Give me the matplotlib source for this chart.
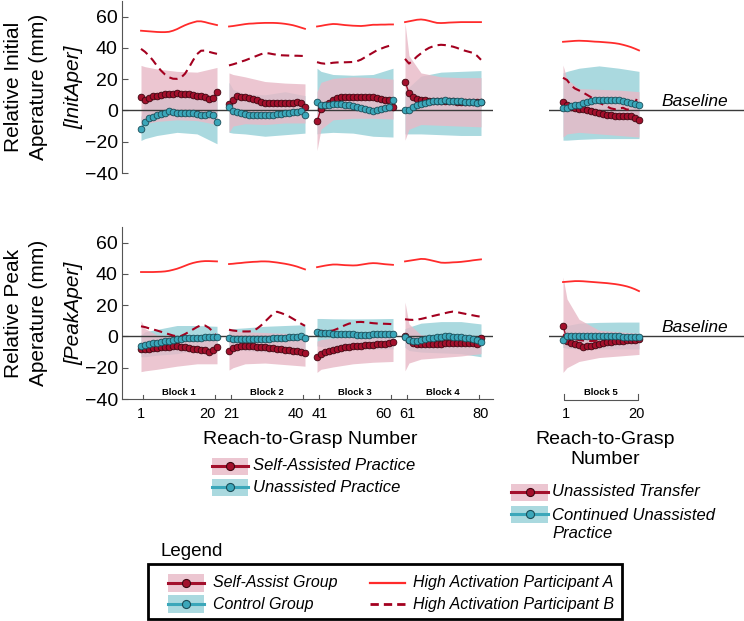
import numpy as np
import matplotlib
matplotlib.use('Agg')
import matplotlib.pyplot as plt
from matplotlib.patches import Rectangle

plt.rcParams['font.family'] = ['Liberation Sans', 'DejaVu Sans']

# ------------------------------------------------------------------ data
trials = list(range(1, 21))
band_trials = [1, 2, 5, 10, 15, 20]
block_names = ['Block 1', 'Block 2', 'Block 3', 'Block 4', 'Block 5']
xtick_labels_left = ['1', '20', '21', '40', '41', '60', '61', '80']
xtick_labels_right = ['1', '20']
yticks = [-40, -20, 0, 20, 40, 60]

# Relative Initial Aperture, means per block (trials 1..20)
init_self = [
    [8.5, 6.5, 8, 9, 9.5, 10, 10.5, 10.7, 10.7, 11, 10.7, 10.7, 10.3, 9.8, 9.5, 9, 8.5, 7.5, 8, 11.5],
    [4, 6.5, 9.5, 8.7, 8.3, 8, 7.5, 6.5, 5.3, 5, 4.8, 4.7, 4.7, 4.7, 4.8, 5, 5, 5.2, 4.8, 2.3],
    [-7, 1, 3.5, 5, 6.5, 7.8, 8.3, 8.5, 8.7, 8.7, 8.7, 8.7, 8.7, 8.5, 8.3, 8, 7.5, 7, 6.4, 2.3],
    [18.5, 11.2, 8.3, 7.4, 6.9, 6.4, 6.2, 6, 6, 6, 5.9, 5.8, 5.8, 5.7, 5.6, 5.5, 5.5, 5.5, 5.5, 5.5],
    [5.3, 3.2, 2.1, 1.7, 1.1, 1.1, 0.4, -0.4, -1.1, -1.5, -2.1, -2.6, -3.2, -3.6, -3.8, -3.8, -3.6, -3.4, -4.7, -5.8],
]
init_ctrl = [
    [-11.7, -7.5, -4.8, -4.3, -3.2, -2.1, -1.5, -0.6, -1.1, -1.7, -1.7, -1.7, -1.7, -1.7, -2.1, -2.8, -2.6, -2.5, -2.8, -7.2],
    [2, -0.5, -1.2, -1.7, -2.2, -2.6, -2.9, -3.1, -3.2, -3.2, -3, -2.6, -2.3, -2, -1.8, -1.5, -1.2, -0.8, -0.6, -2.6],
    [5.3, 3.5, 3.6, 3.8, 4, 4.2, 4, 3.6, 3.2, 2.7, 2.2, 1.7, 1.1, 0.3, -0.5, 0.5, 1.2, 1.6, 2, 6.5],
    [0.4, 0.4, 2.1, 3.4, 4.3, 4.9, 5.4, 5.8, 6.1, 6.3, 6.4, 6.3, 6.2, 6, 5.8, 5.6, 5.4, 5.2, 5, 5.2],
    [1.7, 1.7, 2.6, 3.2, 3.8, 4.7, 5.3, 6, 6.8, 7, 7, 7, 6.8, 6.6, 6.4, 6, 5.3, 4.9, 4.3, 3.2],
]
init_a = [
    [51, 50.8, 50.6, 50.4, 50.2, 50.1, 50.1, 50.3, 51, 52, 53.3, 54.5, 55.5, 56.3, 57, 57, 56.5, 55.8, 55.2, 54.6],
    [53.7, 54, 54.4, 54.8, 55.2, 55.5, 55.6, 55.8, 55.9, 56, 56, 56, 55.9, 55.7, 55.4, 55, 54.5, 53.8, 53, 52.2],
    [53.7, 54.1, 54.6, 55, 55.3, 55.2, 54.9, 54.6, 54.4, 54.2, 54.1, 54, 54.2, 54.5, 54.8, 54.8, 54.9, 54.9, 55, 55],
    [56.5, 57, 57.5, 58, 58.2, 57.9, 57.3, 56.6, 56, 55.9, 56, 56.2, 56.3, 56.4, 56.5, 56.5, 56.5, 56.5, 56.5, 56.5],
    [43.9, 44.1, 44.3, 44.5, 44.6, 44.5, 44.4, 44.2, 44, 43.9, 43.7, 43.5, 43.3, 43, 42.6, 42, 41.3, 40.5, 39.5, 38.4],
]
init_b = [
    [39.4, 37.5, 35, 32, 28.5, 25.5, 23, 21.2, 20.3, 20.2, 21, 23.5, 27.5, 32, 36, 38.2, 38.3, 37.5, 36.8, 36.2],
    [28.8, 29.5, 30.3, 31.2, 32, 33, 34, 35, 36, 36.7, 36.5, 36, 35.6, 35.3, 35.2, 35.1, 35, 35, 34.9, 34.8],
    [30.9, 30.2, 29.9, 30.1, 30.5, 30.7, 30.8, 30.8, 30.9, 31, 31.5, 32.5, 34, 35.5, 37, 38.5, 39.5, 40.5, 41.3, 42],
    [33, 30, 32, 34.5, 36.5, 38.5, 40, 41, 41.7, 42, 41.8, 41.3, 40.8, 40, 39, 38.2, 37.5, 36.8, 35, 32.4],
    [20.9, 19.5, 16, 14, 12.8, 11.5, 10, 8.5, 6.5, 5, 3.8, 2.5, 1.3, 0.8, 1.3, 1.7, 0.5, 1.2, 5, 10.2],
]
# variability bands, read at band_trials
init_self_hi = [[28.8, 28, 26.5, 25, 24.5, 27.5], [24, 23, 21.5, 18.5, 17.5, 17],
                [12, 18, 20.5, 21.5, 21, 20], [56, 35, 24, 21.5, 21, 21], [29, 20, 14, 13.5, 13, 12]]
init_self_lo = [[-9, -8.5, -7, -6, -6.5, -9], [-14, -10, -8.5, -9, -8, -8],
                [-25.6, -12, -6, -5, -5, -5.5], [-19, -12, -9, -9.5, -10, -10.5], [-17, -15, -14, -15, -16, -17]]
init_ctrl_hi = [[-4, 6, 9.5, 10.5, 11, 7], [18, 13.5, 10.5, 10, 12, 9.5],
                [27, 25, 23, 22.5, 23, 27], [12, 15, 22, 24.5, 25, 25.5], [24, 25, 27, 28.5, 27, 25]]
init_ctrl_lo = [[-19.2, -18, -16, -14, -15, -21.3], [-14, -14.5, -15, -16.5, -15.5, -14.5],
                [-15, -14.5, -14, -14.5, -16.5, -17], [-15, -15, -15, -15.5, -16, -16], [-19, -19, -18.5, -18, -18, -18]]

# Relative Peak Aperture
peak_self = [
    [-7.8, -8.2, -7.8, -7.5, -7.2, -7, -6.8, -6.6, -6.4, -6.4, -6.6, -7, -7.5, -7.9, -8.2, -8.4, -8.6, -9.8, -8.7, -6.6],
    [-9, -7.5, -6.5, -6.1, -6, -6.1, -6.3, -6.5, -6.8, -7, -7.3, -7.6, -7.9, -8.2, -8.5, -8.8, -9.2, -9.5, -9.8, -10.3],
    [-13.2, -11.3, -10, -9.2, -8.5, -7.9, -7.4, -7, -6.6, -6.3, -6, -5.8, -5.6, -5.4, -5.2, -5, -4.9, -4.8, -4.3, -3.7],
    [0.5, -2.3, -4, -4.6, -5, -5.1, -5.1, -5, -4.9, -4.7, -4.5, -4.3, -4.2, -4.1, -4.1, -4.2, -4.3, -4.5, -4.8, -1.1],
    [7, -2.6, -4.5, -5.1, -5.7, -6.6, -6.4, -5.8, -5.2, -4.7, -4.3, -3.8, -3.4, -3.1, -2.8, -2.6, -2.4, -2.2, -2.1, -1.6],
]
peak_ctrl = [
    [-6, -5.4, -4.9, -4.4, -4, -3.5, -3.1, -2.6, -2.2, -1.9, -1.6, -1.3, -1.1, -0.9, -0.8, -0.7, -0.6, -0.6, -0.5, -0.5],
    [-1.3, -1.4, -1.5, -1.6, -1.7, -1.8, -1.8, -1.8, -1.7, -1.6, -1.5, -1.3, -1.1, -0.9, -0.7, -0.5, -0.3, -0.1, 0.6, -1.3],
    [2.8, 2.4, 2.2, 2, 1.8, 1.7, 1.6, 1.5, 1.4, 1.3, 1.2, 1.2, 1.2, 1.2, 1.3, 1.3, 1.4, 1.5, 1.6, 1.7],
    [-0.2, -2.3, -3, -2.6, -2, -1.6, -1.2, -0.8, -0.5, -0.2, 0, 0, -0.1, -0.3, -0.6, -0.9, -1.3, -1.8, -2.4, -3.4],
    [-2.1, 0.2, 0.5, 0.5, 0.5, 0.4, 0.4, 0.3, 0.3, 0.2, 0.2, 0.1, 0.1, 0, 0, -0.1, -0.2, -0.2, -0.3, -0.4],
]
peak_a = [
    [41.2, 41.2, 41.2, 41.2, 41.3, 41.4, 41.6, 42, 42.6, 43.3, 44.2, 45.2, 46.2, 47, 47.6, 48, 48.2, 48.2, 48.1, 48],
    [46.3, 46.5, 46.8, 47, 47.3, 47.5, 47.7, 47.8, 48, 48, 47.9, 47.6, 47.3, 46.9, 46.5, 46, 45.4, 44.7, 43.8, 42.9],
    [44.3, 44.8, 45.3, 45.7, 46, 46, 45.8, 45.6, 45.5, 45.4, 45.5, 45.9, 46.3, 46.7, 46.9, 46.8, 46.5, 46.2, 46, 45.8],
    [48, 48.4, 48.8, 49.2, 49.6, 49.5, 49, 48.4, 47.8, 47.2, 47.1, 47.2, 47.4, 47.5, 47.7, 48, 48.3, 48.7, 49, 49.3],
    [34.8, 35, 35.2, 35.4, 35.4, 35.3, 35.1, 34.9, 34.7, 34.5, 34.3, 34.1, 33.8, 33.5, 33.1, 32.6, 32, 31.2, 30.2, 29],
]
peak_b = [
    [6.5, 6, 5.2, 4.5, 3.8, 3, 2.2, 1.4, 0.6, 0.1, 0.3, 1.5, 3, 4.5, 6, 7.2, 7, 5.5, 3, 0],
    [4.3, 3.8, 3.5, 3.2, 3.2, 3.2, 3.5, 5, 7, 9.5, 12, 14.5, 15.8, 15, 14, 12.8, 11.3, 9.8, 8.2, 6.8],
    [4, 3.6, 3.4, 3.5, 3.8, 4.8, 6, 7.2, 8.2, 8.8, 9.2, 9.3, 9.1, 8.8, 8.5, 8.3, 8.2, 8.1, 8, 7.8],
    [11, 10.7, 10.6, 10.8, 11.2, 11.8, 12.5, 13.1, 13.7, 14.3, 14.9, 15.5, 15.9, 15.6, 15, 14.5, 14, 13.5, 13, 12.6],
    [1, 0, -1, -1.8, -2.3, -2.6, -2.8, -2.9, -2.8, -2.6, -2.4, -2.3, -2.3, -2.4, -2.5, -2.5, -2.4, -2.3, -2.2, -2.1],
]
peak_self_hi = [[10, 5, 1, 0, 0, 1], [5, 3.5, 3, 2.5, 2, 1.5],
                [-3, -2, -1, 0, 1, 1.5], [22, 8, 1, 0, 0, 0], [38, 24, 11, 4, 3, 2]]
peak_self_lo = [[-22.5, -22, -21, -19, -17.5, -17.5], [-21.5, -20, -17.5, -17, -18, -19],
                [-23, -21, -19.5, -17.5, -16.5, -16], [-22, -17, -14.5, -13.5, -12.5, -11], [-23, -20, -16, -13.5, -12.5, -11.5]]
peak_ctrl_hi = [[1, 3, 4.5, 7, 7, 6.5], [4, 5, 5.5, 6.5, 7, 7.5],
                [11.5, 11.5, 11.3, 11.2, 11.3, 11.5], [5, 6, 8.5, 9.5, 9.5, 8], [2, 7, 8.5, 9, 9.2, 9.2]]
peak_ctrl_lo = [[-13, -13, -12, -11, -8.5, -7.5], [-7, -8, -9, -10, -8.5, -10],
                [-6, -6.5, -7, -7.5, -8, -8], [-7, -9, -10, -10.5, -11, -13], [-7, -7.5, -8, -8, -8, -8]]

ylabels_main = [['Relative Initial', 'Aperature (mm)'], ['Relative Peak', 'Aperature (mm)']]
ylabels_tag = ['[InitAper]', '[PeakAper]']
xlabel_left = 'Reach-to-Grasp Number'
xlabel_right = 'Reach-to-Grasp\nNumber'
baseline_label = 'Baseline'
legend_mid = ['Self-Assisted Practice', 'Unassisted Practice']
legend_right = ['Unassisted Transfer', 'Continued Unassisted\nPractice']
legend_main = ['Self-Assist Group', 'Control Group', 'High Activation Participant A', 'High Activation Participant B']
legend_title = 'Legend'

# ------------------------------------------------------------------ style
SELF_C, SELF_E = '#a3102c', '#3d0610'
CTRL_C, CTRL_E = '#3ba7ba', '#1b4d58'
PINK, TEAL = '#e8bac7', '#aad9df'
A_C, B_C = '#ff2b2b', '#a3001f'
AX_C = '#555555'
W, H = 744, 621
BLOCK_STEP = 22

fig = plt.figure(figsize=(W / 100, H / 100), dpi=100)


def rect(px0, py0, px1, py1):
    return [px0 / W, 1 - py1 / H, (px1 - px0) / W, (py1 - py0) / H]


def draw_row(axL, axR, s, c, a, b, s_hi, s_lo, c_hi, c_lo):
    for k in range(5):
        ax, off = (axL, k * BLOCK_STEP) if k < 4 else (axR, 0)
        x = [off + t for t in trials]
        xb = [off + t for t in band_trials]
        ax.fill_between(xb, c_lo[k], c_hi[k], color=TEAL, lw=0, zorder=1)
        ax.fill_between(xb, s_lo[k], s_hi[k], color=PINK, alpha=0.82, lw=0, zorder=2)
        ax.plot(x, a[k], color=A_C, lw=1.3, zorder=4)
        ax.plot(x, b[k], color=B_C, lw=1.5, ls=(0, (4, 2.5)), zorder=4)
        ax.plot(x, s[k], color=SELF_C, lw=1, marker='o', ms=4.8, mfc=SELF_C,
                mec=SELF_E, mew=0.6, zorder=5)
        ax.plot(x, c[k], color=CTRL_C, lw=1, marker='o', ms=4.8, mfc=CTRL_C,
                mec=CTRL_E, mew=0.6, zorder=6)


rows = [(1, 173), (227, 399)]
datasets = [
    (init_self, init_ctrl, init_a, init_b, init_self_hi, init_self_lo, init_ctrl_hi, init_ctrl_lo),
    (peak_self, peak_ctrl, peak_a, peak_b, peak_self_hi, peak_self_lo, peak_ctrl_hi, peak_ctrl_lo),
]
for r, (ytop, ybot) in enumerate(rows):
    axL = fig.add_axes(rect(122, ytop, 493, ybot))
    axR = fig.add_axes(rect(549, ytop, 744, ybot))
    draw_row(axL, axR, *datasets[r])
    for ax in (axL, axR):
        ax.set_ylim(-40, 70)
        ax.axhline(0, color='#3a3a3a', lw=1, zorder=3)
        for sp in ax.spines.values():
            sp.set_visible(False)
        ax.patch.set_alpha(0)
    axL.set_xlim(-3.75, 89)
    axR.set_xlim(-2.5, 46.25)
    axL.spines['left'].set_visible(True)
    axL.spines['left'].set_color(AX_C)
    axL.set_yticks(yticks)
    axL.tick_params(axis='y', direction='in', length=4, width=0.8, color=AX_C,
                    labelsize=14, pad=3)
    axR.set_yticks([])
    axR.text(34, 1.2, baseline_label, style='italic', fontsize=12.5,
             ha='center', va='bottom')
    if r == 0:
        axL.set_xticks([])
        axR.set_xticks([])
    else:
        axL.spines['bottom'].set_visible(True)
        axL.spines['bottom'].set_color(AX_C)
        pos = []
        for k in range(4):
            start, end = k * BLOCK_STEP + trials[0], k * BLOCK_STEP + trials[-1]
            pos += [start + (0.6 if k else 0), end - (2.3 if k < 3 else 0)]
        axL.set_xticks(pos, xtick_labels_left)
        axL.tick_params(axis='x', length=0, labelsize=10.5, pad=6)
        axR.set_xticks([trials[0] + 0.7, trials[-1] - 0.7], xtick_labels_right)
        axR.tick_params(axis='x', length=0, labelsize=10.5, pad=6)
        # block brackets
        for k in range(4):
            start, end = k * BLOCK_STEP + trials[0], k * BLOCK_STEP + trials[-1]
            for xx in (start + 0.5, end - 0.5):
                axL.plot([xx, xx], [-40, -37.3], color=AX_C, lw=0.8, clip_on=False)
            axL.text((start + end) / 2, -35.6, block_names[k], fontsize=6.8,
                     fontweight='bold', ha='center', va='center')
        s5, e5 = trials[0] + 0.3, trials[-1] - 0.3
        axR.plot([s5, s5, e5, e5], [-36.5, -40.4, -40.4, -36.5], color=AX_C, lw=0.8,
                 clip_on=False)
        axR.text((s5 + e5) / 2, -35.6, block_names[4], fontsize=6.8,
                 fontweight='bold', ha='center', va='center')

# ------------------------------------------------------------------ overlay text & legends
ov = fig.add_axes([0, 0, 1, 1], zorder=10)
ov.set_xlim(0, W)
ov.set_ylim(H, 0)
ov.axis('off')

for r, yc in enumerate([87, 313]):
    ov.text(13.5, yc, ylabels_main[r][0], rotation=90, fontsize=15, ha='center', va='center')
    ov.text(39, yc, ylabels_main[r][1], rotation=90, fontsize=15, ha='center', va='center')
    ov.text(74, yc, ylabels_tag[r], rotation=90, fontsize=15, style='italic',
            ha='center', va='center')

ov.text(310, 440, xlabel_left, fontsize=14, ha='center', va='center')
ov.text(605, 449.5, xlabel_right, fontsize=14, ha='center', va='center', linespacing=1.2)


def group_handle(x0, x1, yc, h, band, line_c, face, edge, alpha=1.0):
    ov.add_patch(Rectangle((x0, yc - h / 2), x1 - x0, h, color=band, lw=0, alpha=alpha))
    ov.plot([x0, x1], [yc, yc], color=line_c, lw=2.2)
    ov.plot([(x0 + x1) / 2], [yc], marker='o', ms=5.8, mfc=face, mec=edge, mew=0.8)


# middle legend
for i, yc in enumerate([466, 487]):
    if i == 0:
        group_handle(212, 248, yc, 17, PINK, SELF_C, SELF_C, SELF_E, 0.82)
    else:
        group_handle(212, 248, yc, 17, TEAL, CTRL_C, CTRL_C, CTRL_E)
    ov.text(253, yc, legend_mid[i], fontsize=12, style='italic', va='center')

# right legend
group_handle(511, 548, 492, 17, PINK, SELF_C, SELF_C, SELF_E, 0.82)
group_handle(511, 548, 514, 17, TEAL, CTRL_C, CTRL_C, CTRL_E)
ov.text(552, 492, legend_right[0], fontsize=12, style='italic', va='center')
ov.text(552, 524.5, legend_right[1], fontsize=12, style='italic', va='center',
        linespacing=1.25)

# main legend
ov.text(161, 552, legend_title, fontsize=13.5, va='center')
ov.add_patch(Rectangle((148, 564), 474, 55, fill=False, ec='black', lw=2))
group_handle(168, 204, 583, 18, PINK, SELF_C, SELF_C, SELF_E, 0.82)
group_handle(168, 204, 604, 18, TEAL, CTRL_C, CTRL_C, CTRL_E)
ov.plot([370, 405], [583, 583], color=A_C, lw=1.6)
ov.plot([370, 405], [604, 604], color=B_C, lw=2, ls=(0, (3, 1.8)))
for i, (xt, yc) in enumerate([(213, 583), (213, 604), (413, 583), (413, 604)]):
    ov.text(xt, yc, legend_main[i], fontsize=11.5, style='italic', va='center')

fig.savefig('out.png', dpi=100)
